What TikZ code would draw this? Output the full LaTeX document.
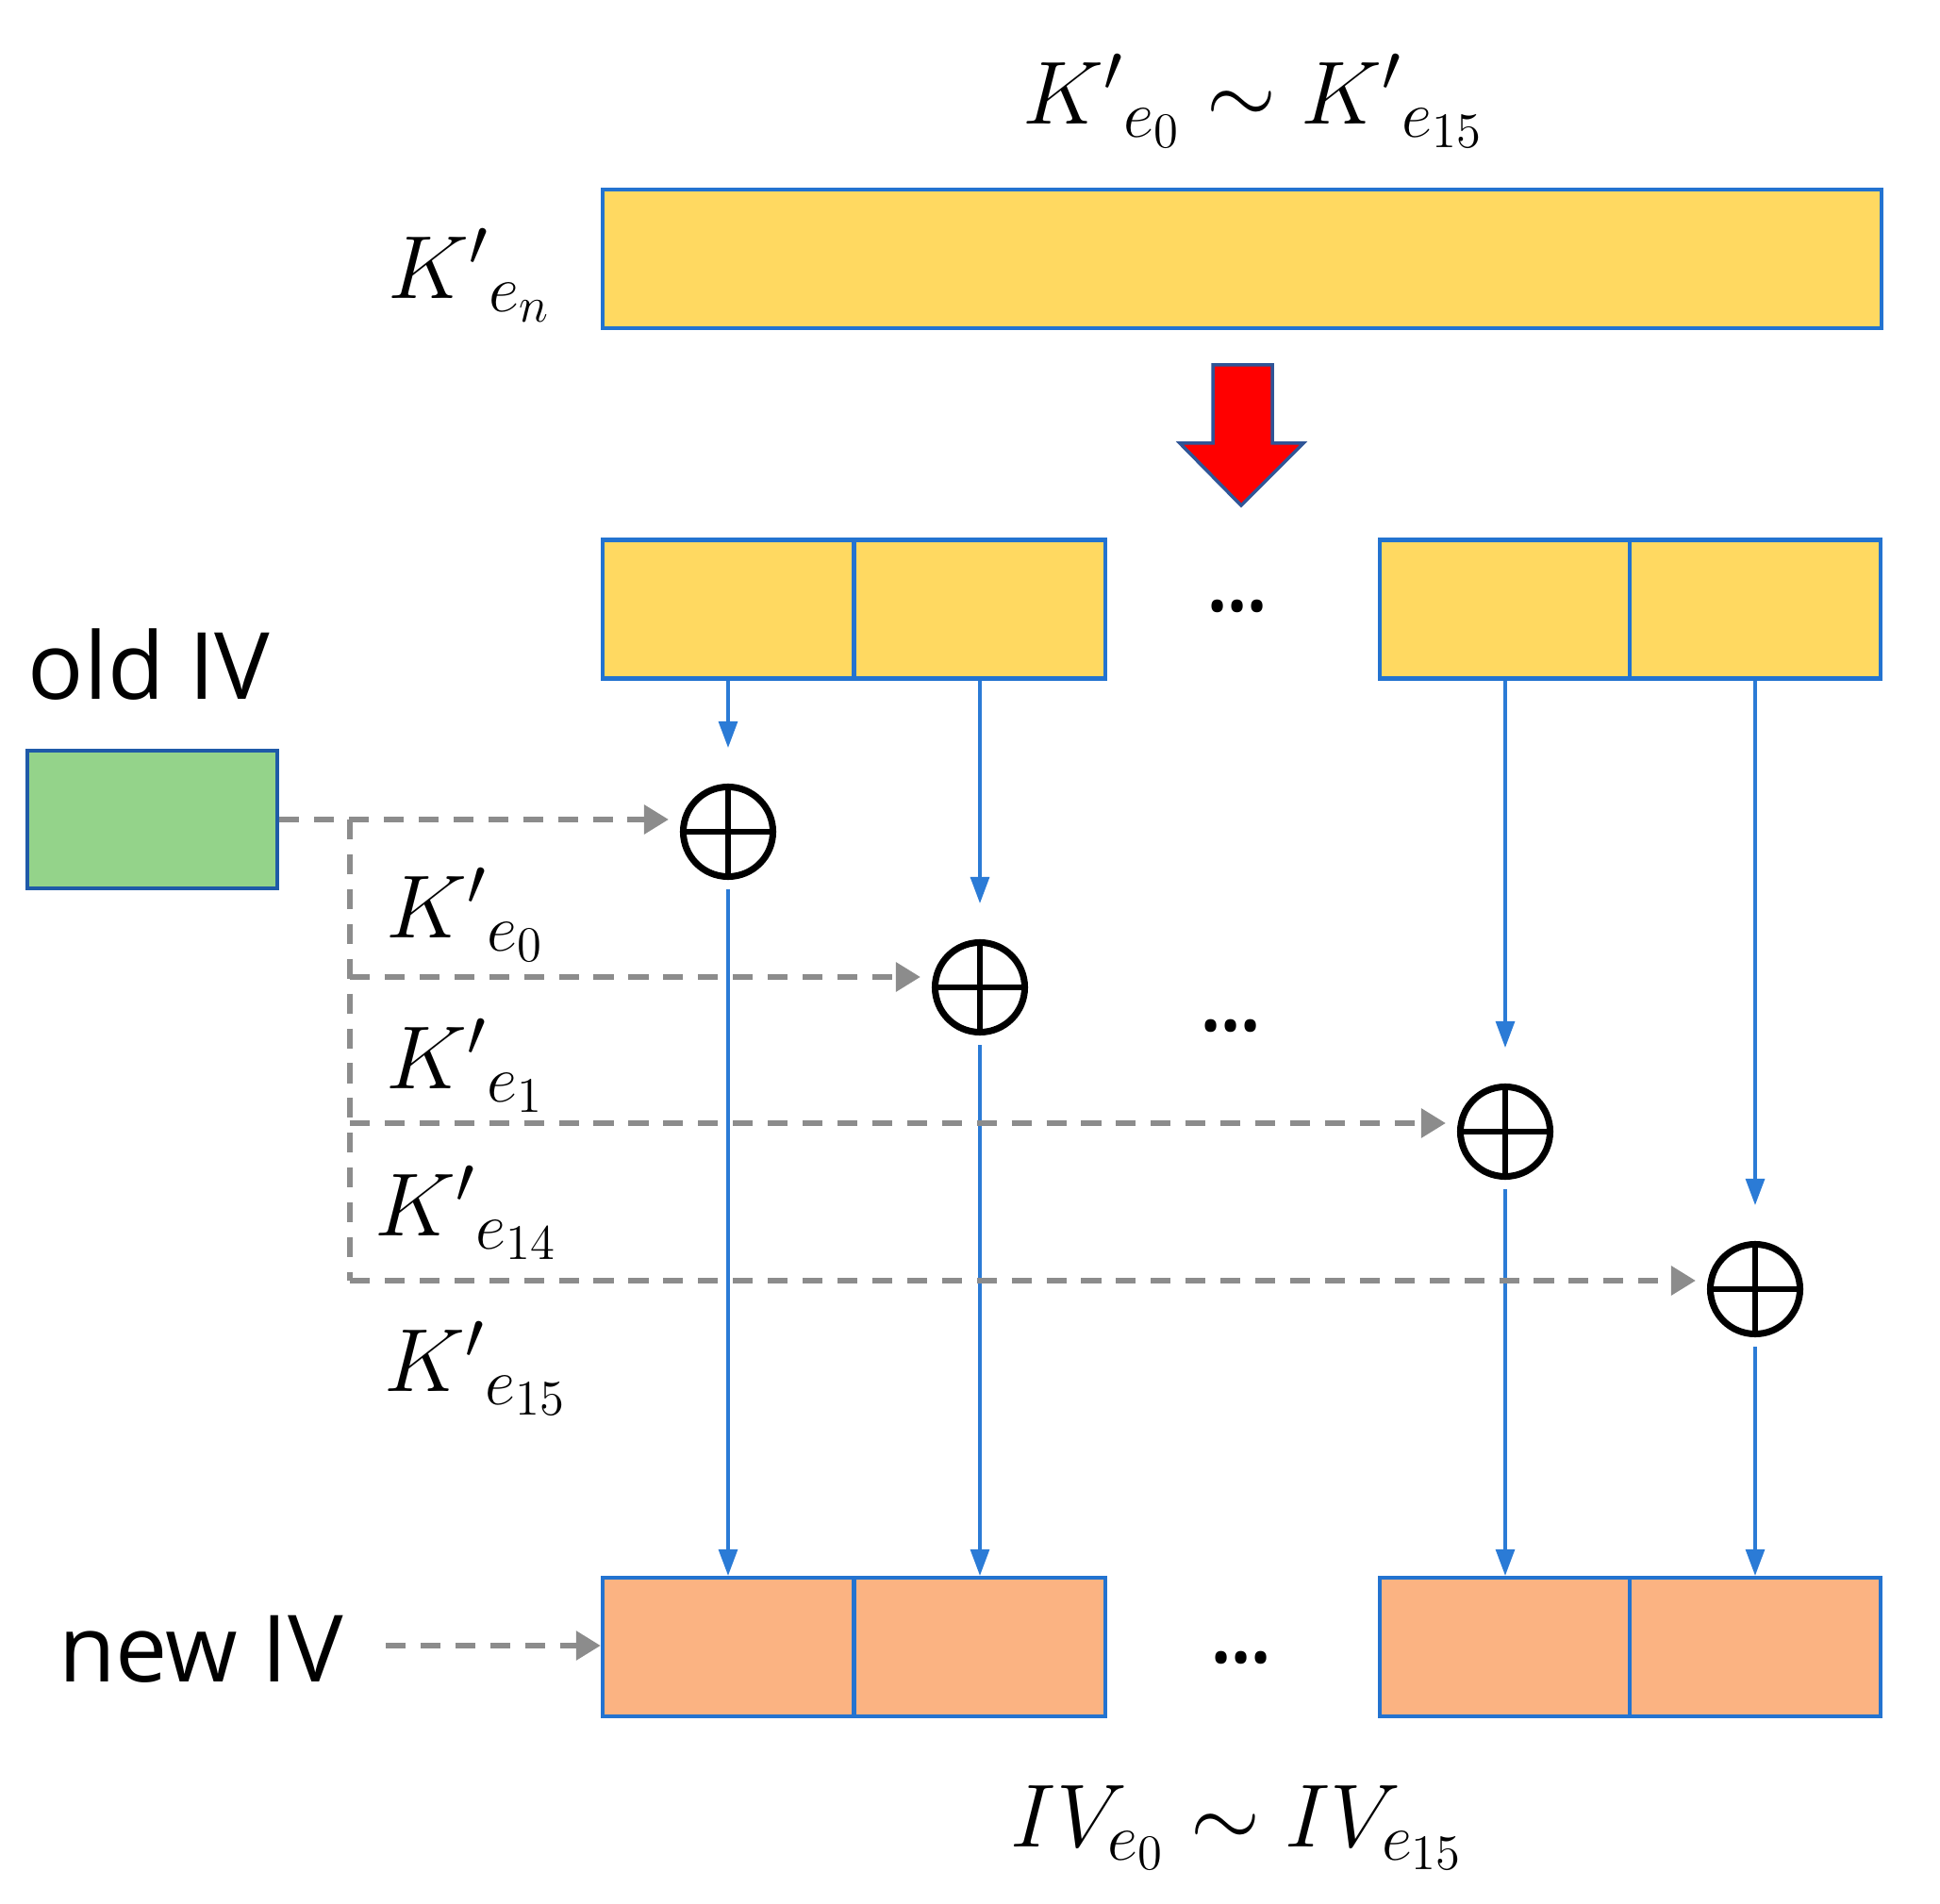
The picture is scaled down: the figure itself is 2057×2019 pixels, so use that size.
\documentclass[tikz,border=0pt]{standalone}
\usepackage{fix-cm}
\usepackage{fontspec}
\setsansfont{Open Sans}
\DeclareMathSizes{27}{27}{20}{15}
\usetikzlibrary{arrows.meta}
\definecolor{cYel}{HTML}{FFD961}
\definecolor{cOra}{HTML}{FBB382}
\definecolor{cGrn}{HTML}{94D38A}
\definecolor{cBlu}{HTML}{2373D0}
\definecolor{cGrnB}{HTML}{1F5AA8}
\definecolor{cArr}{HTML}{2B7BD6}
\definecolor{cGry}{HTML}{8C8C8C}
\definecolor{cRedB}{HTML}{2F5597}
\begin{document}
\begin{tikzpicture}[x=0.01cm,y=-0.01cm,
  cell/.style={draw=cBlu, line width=1.2pt, minimum width=2.66cm, minimum height=1.47cm, inner sep=0pt},
  yel/.style={cell, fill=cYel},
  ora/.style={cell, fill=cOra},
  xor/.style={circle, draw=black, line width=2pt, minimum size=0.95cm, inner sep=0pt,
    path picture={\draw[line width=1.6pt] (path picture bounding box.north) -- (path picture bounding box.south)
      (path picture bounding box.west) -- (path picture bounding box.east);}},
  barrow/.style={draw=cArr, line width=0.9pt, -{Triangle[width=0.2cm,length=0.28cm]}},
  gdash/.style={draw=cGry, line width=1.7pt, dash pattern=on 6pt off 4.5pt},
  garrow/.style={gdash, -{Triangle[width=0.3cm,length=0.26cm]}},
  mlab/.style={font=\fontsize{27}{32}\selectfont, inner sep=0pt},
  slab/.style={font=\sffamily\fontsize{28}{34}\selectfont, inner sep=0pt},
  dotlab/.style={font=\sffamily\fontsize{16}{18}\selectfont, inner sep=0pt}]
\useasboundingbox (0,0) rectangle (2057,2019);

% top
\node[mlab] (toplab) at (1329,107) {${K'}_{e_0} \sim {K'}_{e_{15}}$};
\node[mlab] (kenlab) at (498,292) {${K'}_{e_n}$};
\node[cell, fill=cYel, minimum width=13.55cm] (bar) at (1317,274.5) {};

% red arrow
\draw[fill=red, draw=cRedB, line width=1pt] (1286,387) -- (1349,387) -- (1349,470) -- (1382,470)
  -- (1316,536) -- (1251,470) -- (1286,470) -- cycle;

% yellow row
\node[yel] (y1) at (772,646) {};
\node[yel] (y2) at (1039,646) {};
\node[yel] (y3) at (1596,646) {};
\node[yel] (y4) at (1861,646) {};
\node[dotlab] (d1) at (1312,650) {•••};

% old IV
\node[slab] (oldlab) at (158,705) {old IV};
\node[draw=cGrnB, fill=cGrn, line width=1.2pt, minimum width=2.65cm, minimum height=1.46cm, inner sep=0pt] (g) at (161.5,869) {};

% xor
\node[xor] (x1) at (772,882) {};
\node[xor] (x2) at (1039,1047) {};
\node[xor] (x3) at (1596,1200) {};
\node[xor] (x4) at (1861,1367) {};
\node[dotlab] (d2) at (1305,1095) {•••};

% orange row
\node[ora] (o1) at (772,1746.5) {};
\node[ora] (o2) at (1039,1746.5) {};
\node[ora] (o3) at (1596,1746.5) {};
\node[ora] (o4) at (1861,1746.5) {};
\node[dotlab] (d3) at (1316,1765) {•••};

\node[slab] (newlab) at (213,1749) {new IV};
\node[mlab] (ivlab) at (1312,1938) {$IV_{e_0} \sim IV_{e_{15}}$};

% blue arrows
\foreach \i in {1,2,3,4}{
  \draw[barrow] (y\i.south) -- ([yshift=0.38cm]x\i.north);
  \draw[barrow] ([yshift=-0.1cm]x\i.south) -- (o\i.north);
}

% dashed gray
\coordinate (v0) at (371,869);
\coordinate (r1) at (371,1036);
\coordinate (r2) at (371,1191);
\coordinate (r3) at (371,1358);
\draw[gdash] (v0) -- (r3);
\draw[garrow, shorten >=0.12cm] (g.east) -- (g.east -| x1.west);
\draw[garrow, shorten >=0.12cm] (r1) -- (r1 -| x2.west);
\draw[garrow, shorten >=0.12cm] (r2) -- (r2 -| x3.west);
\draw[garrow, shorten >=0.12cm] (r3) -- (r3 -| x4.west);
\coordinate (nstart) at (409,1745);
\draw[garrow] (nstart) -- (nstart -| o1.west);

% K' labels
\node[mlab, anchor=west] (k0) at (409,970) {${K'}_{e_0}$};
\node[mlab, anchor=west] (k1) at (409,1130) {${K'}_{e_1}$};
\node[mlab, anchor=west] (k14) at (397,1286) {${K'}_{e_{14}}$};
\node[mlab, anchor=west] (k15) at (407,1451) {${K'}_{e_{15}}$};
\end{tikzpicture}
\end{document}
